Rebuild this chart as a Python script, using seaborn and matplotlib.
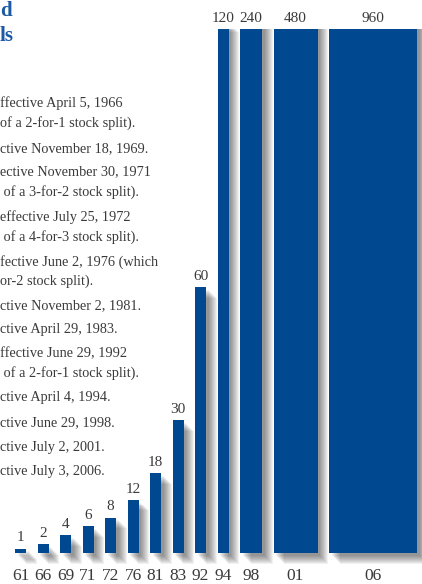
import numpy as np
import pandas as pd
import matplotlib
matplotlib.use("Agg")
import matplotlib.pyplot as plt
import matplotlib.patheffects as pe
import seaborn as sns

# INPUT
years = ["61", "66", "69", "71", "72", "76", "81", "83", "92", "94", "98", "01", "06"]
shares = [1, 2, 4, 6, 8, 12, 18, 30, 60, 120, 240, 480, 960]
notes = [
    "ffective April 5, 1966",
    "of a 2-for-1 stock split).",
    "ctive November 18, 1969.",
    "ective November 30, 1971",
    " of a 3-for-2 stock split).",
    "effective July 25, 1972",
    " of a 4-for-3 stock split).",
    "fective June 2, 1976 (which",
    "or-2 stock split).",
    "ctive November 2, 1981.",
    "ctive April 29, 1983.",
    "ffective June 29, 1992",
    " of a 2-for-1 stock split).",
    "ctive April 4, 1994.",
    "ctive June 29, 1998.",
    "ctive July 2, 2001.",
    "ctive July 3, 2006.",
]
note_y = [103, 123, 149, 172, 192, 217, 237, 262, 281, 306, 329, 354, 373, 398, 423, 447, 471]

W, H = 422, 584
BLUE = "#004990"
INK = "#3a3a3a"

sns.set_theme(style="white")
plt.rcParams["font.family"] = ["Liberation Serif", "DejaVu Serif"]

# bar layout (pixel-like units): tall bars get wider instead of taller
unit, gap, start = 11.0, 11.5, 15.0
widths = np.array([unit * max(1, v / 120) for v in shares])
lefts = start + np.concatenate([[0], np.cumsum(widths + gap)[:-1]])
centers = lefts + widths / 2

df = pd.DataFrame({"year": years, "shares": shares, "x": centers})

fig = plt.figure(figsize=(W / 100, H / 100), dpi=100)
base_px, top_px, bottom_px = 553, 29, 570
px_per_unit = 4.433
ax = fig.add_axes([0, (H - bottom_px) / H, 1, (bottom_px - top_px) / H])

sns.barplot(data=df, x="x", y="shares", native_scale=True, color=BLUE,
            saturation=1, ax=ax, width=0.5)
shadow = [pe.SimplePatchShadow(offset=(2.0 + 0.7 * k, -2.0 - 0.7 * k),
                               shadow_rgbFace="black", alpha=0.055) for k in range(9)]
for p, c, w in zip(ax.patches, centers, widths):
    p.set_x(c - w / 2)
    p.set_width(w)
    p.set_edgecolor("none")
    p.set_path_effects(shadow + [pe.Normal()])

ymax = (base_px - top_px) / px_per_unit
ax.set_xlim(0, W)
ax.set_ylim(-(bottom_px - base_px) / px_per_unit, ymax)
ax.axis("off")

for c, v in zip(centers, shares):
    ax.annotate(str(v), (c, min(v, ymax)), xytext=(0, 3), textcoords="offset points",
                ha="center", va="bottom", fontsize=11, color=INK, annotation_clip=False)

for c, yr in zip(centers, years):
    fig.text(c / W, 0.5 / H, yr, ha="center", va="bottom", fontsize=12.5, color=INK)

for t, y in zip(notes, note_y):
    fig.text(0, 1 - y / H, t, ha="left", va="center", fontsize=10.3, color=INK)

fig.text(0, 1 - 0.5 / H, "d", ha="left", va="top", fontsize=15,
         fontweight="bold", color="#1d5aa6")
fig.text(0, 1 - 36 / H, "ls", ha="left", va="center", fontsize=15,
         fontweight="bold", color="#1d5aa6")

fig.savefig("out.png", dpi=100)
